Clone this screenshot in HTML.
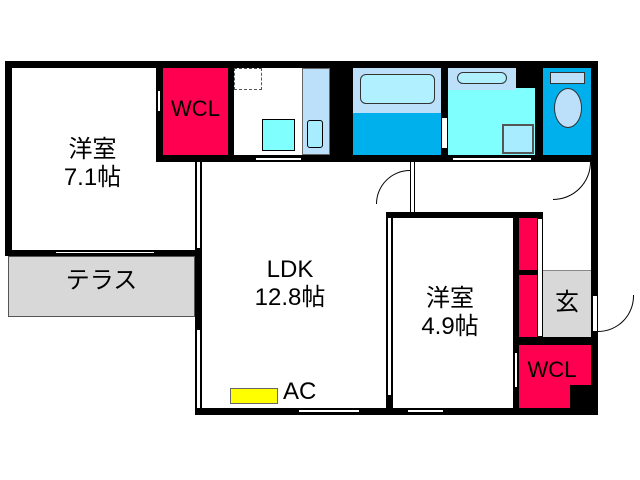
<!DOCTYPE html>
<html><head><meta charset="utf-8"><style>
body{margin:0;width:640px;height:480px;background:#fff;position:relative;overflow:hidden;font-family:"Liberation Sans","Noto Sans CJK JP",sans-serif}
div{position:absolute;box-sizing:border-box}
.b{background:#000}
.t{color:#000;text-align:center;line-height:1.15}
</style></head><body>
<div class="b" style="left:5px;top:61px;width:593px;height:7px"></div>
<div class="b" style="left:5px;top:61px;width:7px;height:195px"></div>
<div class="b" style="left:5px;top:250px;width:195px;height:6px"></div>
<div style="left:55px;top:251px;width:100px;height:3px;background:#fff;border:1px solid #000"></div>
<div class="b" style="left:156px;top:61px;width:7px;height:101px"></div>
<div style="left:157px;top:90px;width:4px;height:22px;background:#fff;border:1px solid #000"></div>
<div style="left:163px;top:68px;width:65px;height:87px;background:#ff0050"></div>
<div class="t" style="left:163px;top:96px;width:65px;font-size:22px">WCL</div>
<div class="b" style="left:228px;top:61px;width:6px;height:101px"></div>
<div style="left:234px;top:68px;width:28px;height:22px;border:1px dashed #555"></div>
<div style="left:262px;top:119px;width:33px;height:32px;background:#80ffff;border:1px solid #000"></div>
<div style="left:302px;top:68px;width:28px;height:87px;background:#bde0fa;border:1px solid #666"></div>
<div style="left:307px;top:120px;width:16px;height:28px;background:#a8ecff;border:1px solid #000;border-radius:3px"></div>
<div class="b" style="left:330px;top:61px;width:23px;height:101px"></div>
<div style="left:353px;top:68px;width:88px;height:45px;background:#bde0fa"></div>
<div style="left:360px;top:74px;width:75px;height:30px;background:#b0f0ff;border:1px solid #333;border-radius:6px"></div>
<div style="left:353px;top:113px;width:88px;height:42px;background:#00b0ec"></div>
<div class="b" style="left:441px;top:61px;width:7px;height:101px"></div>
<div style="left:442px;top:118px;width:5px;height:30px;background:#fff"></div>
<div style="left:448px;top:68px;width:87px;height:87px;background:#80ffff"></div>
<div style="left:448px;top:68px;width:68px;height:22px;background:#bde0fa"></div>
<div style="left:516px;top:68px;width:19px;height:20px;background:#000"></div>
<div style="left:457px;top:72px;width:50px;height:12px;background:#b0f0ff;border:1px solid #333;border-radius:6px"></div>
<div style="left:502px;top:124px;width:32px;height:30px;background:#a8ecff;border:2px solid #555"></div>
<div class="b" style="left:535px;top:61px;width:8px;height:101px"></div>
<div style="left:543px;top:68px;width:48px;height:87px;background:#00b0ec"></div>
<div style="left:550px;top:72px;width:35px;height:12px;background:#bde0fa;border:1px solid #333"></div>
<div style="left:554px;top:88px;width:28px;height:40px;background:#bde0fa;border:1px solid #333;border-radius:50%"></div>
<div class="b" style="left:591px;top:61px;width:7px;height:354px"></div>
<div style="left:592px;top:295px;width:6px;height:37px;background:#fff;border:1px solid #000"></div>
<div style="left:598px;top:295px;width:36px;height:37px;border-bottom:1px solid #000;border-right:1px solid #000;border-radius:0 0 37px 0"></div>
<div class="b" style="left:156px;top:155px;width:442px;height:7px"></div>
<div style="left:255px;top:157px;width:47px;height:4px;background:#fff;border:1px solid #000"></div>
<div style="left:452px;top:157px;width:80px;height:4px;background:#fff;border:1px solid #000"></div>
<div style="left:195px;top:162px;width:7px;height:253px;border-left:2px solid #000;border-right:2px solid #000"></div>
<div class="b" style="left:195px;top:248px;width:7px;height:82px"></div>
<div class="b" style="left:195px;top:408px;width:200px;height:7px"></div>
<div style="left:298px;top:409px;width:62px;height:4px;background:#fff;border:1px solid #000"></div>
<div style="left:8px;top:256px;width:187px;height:61px;background:#d8d8d8;border:1px solid #555"></div>
<div class="t" style="left:8px;top:267px;width:187px;font-size:24px">テラス</div>
<div style="left:410px;top:162px;width:5px;height:50px;border-left:1px solid #000;border-right:1px solid #000"></div>
<div style="left:376px;top:170px;width:34px;height:34px;border:1px solid #000;border-left:none;border-bottom:none;border-radius:0 34px 0 0;transform:scaleX(-1);"></div>
<div style="left:553px;top:162px;width:38px;height:38px;border-right:1px solid #000;border-bottom:1px solid #000;border-radius:0 0 38px 0"></div>
<div class="b" style="left:386px;top:212px;width:157px;height:6px"></div>
<div style="left:386px;top:218px;width:7px;height:197px;border-left:2px solid #000;border-right:2px solid #000"></div>
<div class="b" style="left:386px;top:395px;width:212px;height:20px;background:#000"></div>
<div style="left:393px;top:395px;width:122px;height:13px;background:#fff"></div>
<div style="left:407px;top:409px;width:37px;height:4px;background:#fff;border:1px solid #000"></div>
<div class="b" style="left:513px;top:212px;width:6px;height:203px"></div>
<div style="left:519px;top:218px;width:18px;height:52px;background:#ff0050"></div>
<div class="b" style="left:513px;top:270px;width:30px;height:5px"></div>
<div style="left:519px;top:275px;width:18px;height:62px;background:#ff0050"></div>
<div style="left:537px;top:218px;width:6px;height:119px;background:#fff;border:1px solid #000"></div>
<div style="left:543px;top:270px;width:48px;height:67px;background:#d8d8d8;border-top:1px solid #888"></div>
<div class="t" style="left:543px;top:289px;width:48px;font-size:24px">玄</div>
<div class="b" style="left:513px;top:337px;width:85px;height:8px"></div>
<div style="left:519px;top:345px;width:72px;height:63px;background:#ff0050"></div>
<div class="b" style="left:570px;top:385px;width:21px;height:23px"></div>
<div class="t" style="left:519px;top:357px;width:66px;font-size:22px">WCL</div>
<div style="left:514px;top:352px;width:4px;height:36px;background:#fff;border:1px solid #000"></div>
<div class="t" style="left:40px;top:136px;width:105px;font-size:24px">洋室<br>7.1帖</div>
<div class="t" style="left:230px;top:256px;width:120px;font-size:24px">LDK<br>12.8帖</div>
<div class="t" style="left:395px;top:285px;width:110px;font-size:24px">洋室<br>4.9帖</div>
<div style="left:230px;top:388px;width:48px;height:16px;background:#ffff00;border:1px solid #666"></div>
<div class="t" style="left:283px;top:378px;font-size:24px">AC</div>
</body></html>
